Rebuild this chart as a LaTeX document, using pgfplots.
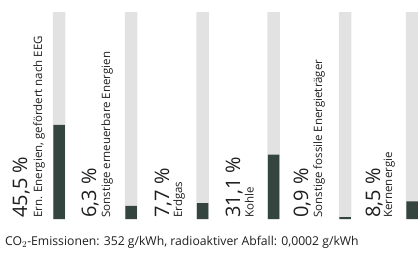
\documentclass[border=0pt]{standalone}
\usepackage{fontspec}
\setmainfont{Open Sans}
\usepackage{pgfplots}
\pgfplotsset{compat=1.18}
\definecolor{bgbar}{RGB}{226,226,226}
\definecolor{fgbar}{RGB}{52,68,63}
\definecolor{txt}{RGB}{30,30,30}
\begin{document}
\begin{tikzpicture}
\begin{axis}[
  scale only axis, width=418pt, height=255pt,
  hide axis,
  xmin=0, xmax=418, ymin=-17.39, ymax=105.80,
  clip=true,
]
% background (100 %)
\addplot[ybar, bar shift=0pt, bar width=12.5, fill=bgbar, draw=none]
  coordinates {(59,100) (131,100) (202.5,100) (273.5,100) (345,100) (412,100)};
% shares
\addplot[ybar, bar shift=0pt, bar width=11.5, fill=fgbar, draw=none]
  coordinates {(59,45.5) (131,6.3) (202.5,7.7) (273.5,31.1) (345,0.9) (412,8.5)};
\begin{scope}[every node/.style={rotate=90, anchor=base west, text=txt, inner sep=0pt}]
\node[font=\fontsize{20}{22}\selectfont] at (axis cs:27,0.5) {45,5 \%};
\node[font=\fontsize{11.5}{13}\selectfont] at (axis cs:42,0.5) {Ern. Energien, gefördert nach EEG};
\node[font=\fontsize{20}{22}\selectfont] at (axis cs:96,0.5) {6,3 \%};
\node[font=\fontsize{11.5}{13}\selectfont] at (axis cs:110,0.5) {Sonstige erneuerbare Energien};
\node[font=\fontsize{20}{22}\selectfont] at (axis cs:169,0.5) {7,7 \%};
\node[font=\fontsize{11.5}{13}\selectfont] at (axis cs:182,0.5) {Erdgas};
\node[font=\fontsize{20}{22}\selectfont] at (axis cs:240,0.5) {31,1 \%};
\node[font=\fontsize{11.5}{13}\selectfont] at (axis cs:253.5,0.5) {Kohle};
\node[font=\fontsize{20}{22}\selectfont] at (axis cs:308,0.5) {0,9 \%};
\node[font=\fontsize{11.5}{13}\selectfont] at (axis cs:322,0.5) {Sonstige fossile Energieträger};
\node[font=\fontsize{20}{22}\selectfont] at (axis cs:380,0.5) {8,5 \%};
\node[font=\fontsize{11.5}{13}\selectfont] at (axis cs:392,0.5) {Kernenergie};
\end{scope}
\node[anchor=base west, inner sep=0pt, text=txt, font=\fontsize{12.2}{14}\selectfont]
  at (axis cs:5,-13.04) {CO$_2$-Emissionen: 352 g/kWh, radioaktiver Abfall: 0,0002 g/kWh};
\end{axis}
\pgfresetboundingbox
\path (current axis.south west) rectangle (current axis.north east);
\end{tikzpicture}
\end{document}
